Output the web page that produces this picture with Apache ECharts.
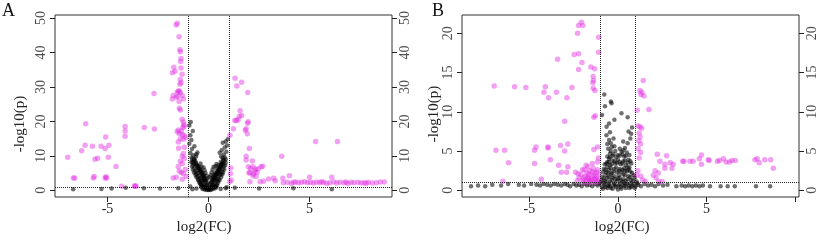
<!DOCTYPE html>
<html>
<head>
<meta charset="utf-8">
<script src="https://cdn.jsdelivr.net/npm/echarts@6/dist/echarts.min.js"></script>
<style>
  html, body { margin: 0; padding: 0; background: #fff; }
  #chart { width: 824px; height: 242px; }
</style>
</head>
<body>
<div id="chart"></div>
<script>
// tick labels
const xTicksA = [-5, 0, 5];
const xTicksB = [-5, 0, 5, 10];
const xLabelsB = [-5, 0, 5];
const yTicksA = [0, 10, 20, 30, 40, 50];
const yTicksB = [0, 5, 10, 15, 20];
const fcCut = [-1, 1];
const pCut = 1;

// axis extents [min, max]
const xRangeA = [-7.6, 9.08];
const xRangeB = [-8.81, 10.23];
const yRangeA = [-1.95, 50.9];
const yRangeB = [-0.86, 22.34];

// panel A: significant points [log2FC, -log10p]
const aSig = [
  [-1.6,48.0],[-1.55,48.5],[-1.46,44.6],[-1.41,40.8],[-1.40,40.2],[-1.36,38.3],[-1.38,37.4],
  [-1.72,35.7],[-1.79,34.1],[-1.66,34.6],[-1.36,35.5],[-1.31,33.7],[-1.40,32.2],[-1.36,31.2],[-1.42,30.8],
  [-1.55,28.4],[-1.50,28.8],[-1.45,28.8],[-1.40,28.4],[-1.75,27.5],[-1.60,27.0],[-1.52,27.2],[-1.3,27.5],
  [-1.46,25.8],[-1.25,26.5],[-1.8,26.5],[-2.7,28.1],[-1.40,23.3],[-1.44,23.8],
  [-1.31,20.6],[-1.25,19.8],[-1.22,19.0],[-1.2,18.5],[-1.28,18.2],[-1.5,17.5],[-1.55,17.0],[-1.45,16.5],
  [-1.35,17.2],[-1.3,16.2],[-1.2,15.8],[-1.12,15.3],[-1.25,14.8],[-1.40,15.0],[-1.5,14.0],[-1.48,12.2],
  [-6.08,19.3],[-4.13,18.5],[-4.13,17.2],[-4.13,15.7],[-3.18,18.2],[-2.68,17.8],[-5.09,15.5],
  [-6.11,13.1],[-5.75,12.8],[-5.32,12.8],[-4.93,13.1],[-5.12,12.1],[-6.28,11.5],[-5.49,9.3],[-5.62,9.0],
  [-4.96,9.6],[-6.97,9.6],[-4.58,6.9],
  [-6.69,3.6],[-6.62,3.6],[-5.70,3.6],[-5.66,4.0],[-5.12,3.6],[-5.04,3.6],[-5.08,3.9],
  [-4.3,1.2],[-3.67,1.2],[-3.59,1.2],[-3.63,1.3],
  [-1.25,10.7],[-1.3,9.9],[-1.2,9.2],[-1.4,8.4],[-1.3,7.8],[-1.5,6.9],[-1.45,5.6],[-1.35,5.2],
  [-1.25,4.9],[-1.6,3.8],[-1.75,3.6],[-1.3,3.2],[-1.1,4.0],[-1.15,6.0],[-1.2,12.5],
  [1.31,32.5],[1.40,30.3],[1.64,31.4],[1.94,28.4],[1.56,23.1],[1.64,21.7],[1.52,21.4],[1.30,20.3],
  [1.38,20.3],[1.46,20.5],[1.96,19.9],[1.93,19.5],[1.86,17.9],[1.82,17.4],[1.23,17.9],[1.06,16.0],
  [1.92,16.4],[2.02,12.1],[1.86,9.9],[1.86,8.8],[2.17,8.5],[3.62,9.9],[5.3,14.2],[6.38,14.2],
  [1.97,6.8],[2.08,6.3],[2.2,6.8],[2.33,6.2],[2.45,6.2],[2.6,6.8],[2.68,7.0],[2.05,5.2],[2.22,4.8],
  [2.4,5.2],[2.3,5.6],[2.0,5.0],[2.2,4.2],[2.35,4.0],[1.1,6.5],[1.08,4.8],[1.12,3.0],[1.05,2.5],
  [2.05,2.5],[2.55,2.5],[2.72,2.6],[2.97,3.3],[3.22,3.5],[3.3,2.8],[3.68,3.5],[4.0,4.2],[5.0,3.8],[6.1,3.8],
  [3.7,2.2],[3.9,2.3],[4.1,2.0],[4.3,2.4],[4.45,2.2],[4.6,2.3],[4.75,2.5],[4.9,2.2],[5.05,2.3],[5.2,2.1],
  [5.35,2.4],[5.5,2.2],[5.7,2.3],[5.85,2.0],[6.0,2.2],[6.2,2.4],[6.35,2.1],[6.5,2.3],[6.7,2.2],[6.9,2.0],
  [7.05,2.3],[7.2,2.2],[7.4,2.3],[7.55,2.1],[7.7,2.2],[7.9,2.3],[8.1,2.1],[8.3,2.2],[8.5,2.4],[8.7,2.4],
  [4.2,2.3],[5.6,2.5],[6.8,2.4],[7.8,2.0]
];

// panel A: other points
const aRest = [
  [-0.3,0.4],[-0.2,0.2],[-0.1,0.1],[0,0.05],[0.1,0.1],[0.2,0.3],[0.3,0.5],[-0.25,0.8],[-0.15,0.6],
  [-0.05,0.3],[0.05,0.4],[0.15,0.7],[0.25,0.9],[0.35,1.2],[-0.35,1.3],[-0.2,1.1],[0.0,0.8],[0.1,1.0],
  [-0.4,1.8],[0.4,1.7],[-0.1,1.4],[0.2,1.5],[-0.3,2.1],[0.3,2.2],
  [-0.45,2.5],[-0.35,2.8],[-0.25,2.6],[-0.15,2.4],[0.15,2.5],[0.25,2.7],[0.35,2.9],[0.45,2.6],
  [-0.5,3.2],[-0.4,3.5],[-0.3,3.1],[-0.2,3.3],[0.2,3.2],[0.3,3.6],[0.4,3.3],[0.5,3.1],
  [-0.55,4.0],[-0.45,4.3],[-0.35,3.9],[-0.25,4.4],[0.25,4.1],[0.35,4.5],[0.45,4.0],[0.55,4.4],
  [-0.6,4.8],[-0.5,5.0],[-0.3,4.7],[0.3,4.9],[0.5,5.1],[0.6,4.7],
  [-0.65,5.5],[-0.55,5.8],[-0.4,5.4],[0.4,5.6],[0.55,5.9],[0.65,5.4],[-0.7,6.3],[-0.55,6.6],[-0.45,6.1],
  [0.45,6.4],[0.6,6.8],[0.7,6.2],[-0.75,7.2],[-0.6,7.5],[-0.5,7.0],[0.5,7.3],[0.65,7.7],[0.75,7.0],
  [-0.8,8.0],[-0.65,8.4],[0.6,8.2],[0.78,8.6],[-0.7,9.1],[-0.85,9.5],[0.7,9.3],[0.85,9.0],
  [-0.7,8.8],[-0.62,7.9],[-0.52,6.8],[-0.42,5.9],[-0.35,5.1],[-0.28,4.2],[-0.2,3.6],[-0.12,2.9],
  [-0.05,2.1],[-0.08,1.7],[0.08,1.8],[0.12,2.2],[0.18,2.9],[0.28,3.4],[0.38,4.2],[0.42,4.8],[0.48,5.4],
  [0.52,6.2],[0.58,6.6],[0.62,7.3],[0.68,8.0],[0.72,8.8],
  [-0.75,8.3],[-0.68,7.6],[-0.58,7.2],[-0.48,6.4],[-0.38,5.7],[-0.32,5.2],[-0.22,4.0],[-0.16,3.0],
  [0.22,3.8],[0.32,4.6],[0.42,5.2],[0.5,5.8],[0.58,7.0],[0.66,7.4],[0.72,7.8],
  [-0.78,6.0],[-0.72,5.2],[-0.65,4.5],[-0.6,3.8],[-0.52,3.0],[-0.45,2.2],[-0.38,1.6],[-0.28,1.0],
  [0.78,6.0],[0.72,5.2],[0.68,4.6],[0.62,3.8],[0.55,3.0],[0.48,2.2],[0.42,1.4],[0.32,1.0],
  [-0.82,7.0],[-0.85,8.2],[0.82,7.2],[0.85,8.0],[-0.2,5.8],[-0.15,5.0],[-0.1,4.2],[0.1,4.4],[0.15,5.2],
  [0.2,6.0],[-0.25,6.6],[0.25,6.8],[-0.05,3.4],[0.05,3.8],[-0.4,7.8],[0.4,7.6],[-0.35,6.8],[0.35,7.0],
  [-0.25,1.5],[0.25,1.6],[-0.18,1.0],[0.18,1.2],[-0.12,0.5],[0.12,0.6],[-0.05,0.7],[0.05,0.2],
  [-0.35,0.9],[0.38,0.8],[-0.62,9.8],[-0.8,9.0],[0.62,9.8],[0.8,9.6],
  [-0.75,10.2],[-0.9,10.8],[-0.6,10.5],[0.75,10.4],[0.88,11.2],[0.65,11.6],[-0.82,12.0],[-0.7,12.8],
  [0.8,12.4],[0.92,13.0],[-0.95,13.5],[-0.85,14.6],[0.7,13.8],[0.85,14.2],[-0.9,16.0],[-0.78,17.2],
  [-0.95,18.8],[-0.88,19.8],[0.95,14.8],[-0.55,11.0],[0.55,10.9],
  [-0.8,0.3],[-0.6,0.5],[0.6,0.4],[0.85,0.6],[-0.9,1.1],[0.9,0.9],
  [-5.3,0.4],[-4.8,0.5],[-4.1,0.7],[-3.2,0.6],[-2.4,0.5],[-6.7,0.3],[4.2,0.6],[6.1,0.3],[-1.5,0.6],
  [1.3,0.7],[2.5,0.5]
];

// panel B: significant points
const bSig = [
  [-2.07,21.4],[-2.22,21.0],[-1.98,21.0],[-2.28,20.0],[-1.09,19.5],[-1.09,17.6],[-2.47,17.3],[-2.22,17.4],
  [-3.41,16.7],[-2.03,16.3],[-2.22,15.4],[-1.53,15.7],[-1.32,15.5],[-1.4,14.5],[-1.38,14.0],[-1.42,13.7],
  [-1.4,13.0],[-1.3,12.7],
  [-6.99,13.3],[-5.84,13.2],[-5.2,13.1],[-4.1,13.2],[-4.18,12.5],[-3.92,11.8],[-3.48,12.5],[-2.6,13.1],
  [-2.88,11.8],[-3.01,8.8],[-1.36,9.3],[-1.28,9.5],
  [-6.89,5.1],[-6.4,5.1],[-6.18,3.5],[-4.71,5.1],[-4.63,5.5],[-3.95,5.5],[-3.95,5.4],[-4.71,3.4],
  [-3.82,3.9],[-3.24,5.7],[-2.83,5.9],[-3.01,5.0],[-3.35,3.2],[-3.2,2.3],[-2.9,2.3],[-2.83,3.0],
  [-4.33,1.4],[-6.5,1.15],[-1.36,5.2],[-1.15,5.5],[-1.1,4.1],
  [-2.3,1.2],[-2.2,1.6],[-2.1,2.0],[-2.0,1.3],[-1.9,2.6],[-1.85,1.8],[-1.8,1.1],[-1.75,2.2],[-1.7,3.0],
  [-1.65,1.5],[-1.6,2.5],[-1.55,1.2],[-1.5,1.9],[-1.45,3.4],[-1.4,2.8],[-1.35,1.4],[-1.3,2.2],[-1.25,1.0],
  [-1.2,1.7],[-1.15,2.6],[-1.1,1.3],[-1.05,2.0],[-1.6,1.0],[-1.95,1.0],[-2.4,2.3],[-1.15,3.6],[-1.5,1.4],
  [-1.4,1.1],[-1.7,1.6],[-1.25,1.5],[-2.0,2.6],[-1.8,3.2],
  [-2.25,2.1],[-1.95,1.6],[-1.65,2.0],[-1.35,1.8],[-1.12,1.1],[-1.45,2.4],[-1.75,1.3],[-1.2,2.3],
  [1.43,14.0],[1.24,12.7],[1.35,12.5],[1.47,12.0],[1.3,12.2],[1.75,10.3],[1.09,10.2],[1.13,8.2],[1.25,8.1],
  [1.34,7.9],[1.2,7.3],[1.25,6.8],[1.18,6.3],[1.28,5.9],[1.14,5.3],[1.28,4.8],[1.2,4.1],[1.13,2.5],
  [1.06,1.9],[1.3,1.8],[1.4,1.3],[1.55,1.1],
  [2.22,4.6],[2.75,4.4],[2.37,3.7],[2.65,3.3],[2.95,3.5],[3.12,3.3],[3.05,2.8],[2.65,2.8],[2.1,2.5],
  [2.28,2.2],[2.0,1.9],[2.15,1.6],[2.3,1.1],[2.5,1.1],
  [3.66,3.7],[3.73,3.7],[4.07,3.7],[4.25,3.7],[4.6,4.0],[4.72,4.5],[4.72,3.3],[5.1,3.9],[5.16,3.8],
  [5.62,3.7],[5.74,3.8],[5.96,4.0],[6.11,3.6],[6.3,3.6],[6.44,3.8],[6.63,3.8],[7.74,3.9],[7.87,4.0],
  [7.98,3.5],[8.3,3.9],[8.63,3.9],[8.78,2.8]
];

// panel B: other points
const bRest = [
  [-8.3,0.5],[-7.9,0.6],[-7.5,0.5],[-7.1,0.7],[-6.6,0.6],[-6.2,0.8],[-5.6,0.7],[-5.3,0.6],[-4.9,0.8],
  [-4.6,0.7],[-4.4,0.6],[-4.2,0.8],[-4.0,0.7],[-3.8,0.6],[-3.6,0.8],[-3.4,0.7],[-3.2,0.6],[-3.0,0.8],
  [-2.85,0.7],[-2.7,0.5],[-2.5,0.8],[-2.35,0.6],[-2.2,0.7],[-2.05,0.5],[-1.9,0.8],[-1.75,0.6],[-1.6,0.7],
  [-1.45,0.5],[-1.3,0.8],[-1.15,0.6],[1.15,0.7],[1.3,0.5],[1.5,0.8],[1.7,0.6],[1.9,0.7],[2.1,0.5],
  [2.3,0.8],[2.55,0.6],[2.8,0.7],[3.3,0.5],[3.6,0.6],[3.8,0.5],[4.0,0.6],[4.2,0.5],[4.4,0.6],[4.6,0.5],
  [4.8,0.6],[5.2,0.5],[5.8,0.5],[6.2,0.5],[6.6,0.5],[7.8,0.5],[8.6,0.5],
  [-0.9,0.4],[-0.75,0.7],[-0.6,0.3],[-0.45,0.5],[-0.3,0.2],[-0.15,0.6],[0.0,0.1],[0.15,0.4],[0.3,0.7],
  [0.45,0.3],[0.6,0.6],[0.75,0.4],[0.9,0.8],[-0.8,0.9],[-0.5,0.8],[-0.2,0.9],[0.1,0.8],[0.4,0.9],
  [0.7,0.9],[1.0,0.5],
  [-0.85,0.2],[-0.7,0.4],[-0.55,0.6],[-0.4,0.3],[-0.25,0.7],[-0.1,0.4],[0.05,0.6],[0.2,0.2],[0.35,0.5],
  [0.5,0.8],[0.65,0.3],[0.8,0.6],[0.95,0.3],
  [-0.95,1.2],[-0.8,1.5],[-0.65,1.1],[-0.5,1.7],[-0.35,1.3],[-0.2,1.8],[-0.05,1.2],[0.1,1.6],[0.25,1.1],
  [0.4,1.9],[0.55,1.4],[0.7,1.7],[0.85,1.2],[-0.7,1.9],[-0.4,2.0],[0.05,1.9],[0.3,2.0],[0.95,1.6],
  [-0.9,1.7],[-0.75,1.2],[-0.6,1.6],[-0.45,1.1],[-0.3,1.6],[-0.15,1.4],[0.0,1.5],[0.15,1.2],[0.3,1.4],
  [0.45,1.2],[0.6,1.8],[0.75,1.3],[0.9,1.9],
  [-0.85,2.3],[-0.7,2.6],[-0.55,2.2],[-0.4,2.8],[-0.25,2.4],[-0.1,2.9],[0.05,2.5],[0.2,2.3],[0.35,2.8],
  [0.5,2.4],[0.65,2.9],[0.8,2.2],[-0.6,3.0],[0.6,2.6],
  [-0.8,2.7],[-0.65,2.3],[-0.5,2.6],[-0.35,2.2],[-0.2,2.7],[-0.05,2.3],[0.1,2.7],[0.25,2.6],[0.4,2.5],
  [0.55,2.9],[0.7,2.4],
  [-0.75,3.3],[-0.6,3.6],[-0.45,3.2],[-0.3,3.8],[-0.15,3.4],[0.0,3.9],[0.15,3.3],[0.3,3.7],[0.45,3.2],
  [0.6,3.9],[0.75,3.4],[-0.5,4.0],
  [-0.65,3.4],[-0.5,3.6],[-0.35,3.3],[-0.2,3.7],[-0.05,3.5],[0.1,3.6],[0.25,3.4],[0.4,3.8],[0.55,3.5],
  [0.7,3.7],
  [-0.6,4.3],[-0.45,4.7],[-0.3,4.4],[-0.15,5.0],[0.0,4.5],[0.2,4.9],[0.35,4.3],[0.5,4.8],[0.65,4.5],
  [-0.55,5.3],[0.4,5.4],[-0.35,5.5],
  [-0.45,4.2],[-0.25,4.6],[-0.1,4.2],[0.1,4.4],[0.25,4.6],[0.45,4.4],[-0.4,5.0],[0.3,5.1],[-0.2,5.6],
  [0.1,5.3],
  [-0.6,5.9],[-0.5,6.4],[-0.4,6.0],[-0.25,6.6],[0.3,6.2],[0.55,6.0],[0.7,6.6],[-0.65,7.0],[-0.45,7.4],
  [0.75,7.2],[0.6,7.5],[-0.64,8.1],[-0.5,8.5],[0.8,8.0],
  [-0.77,12.2],[-0.4,11.3],[-0.36,11.1],[-0.73,10.7],[-0.9,9.6],[0.55,9.3],[0.2,9.8],[-0.2,9.0],
  [-1.0,1.0],[1.05,1.1],[-1.05,0.8],[1.1,0.9]
];

const serif = "Liberation Serif";
const ink = "#222";

function xAxisFor(grid, range, ticks, labels) {
  return {
    gridIndex: grid, type: "value", min: range[0], max: range[1],
    axisLine: { show: false, onZero: false },
    splitLine: { show: false },
    axisTick: { show: true, inside: false, length: 5, customValues: ticks, lineStyle: { color: ink } },
    axisLabel: { customValues: labels, margin: 5, fontFamily: serif, fontSize: 14, color: ink },
  };
}

function yAxisFor(grid, side, range, ticks) {
  return {
    gridIndex: grid, type: "value", position: side, min: range[0], max: range[1],
    axisLine: { show: false, onZero: false },
    splitLine: { show: false },
    axisTick: { show: true, inside: false, length: 5, customValues: ticks, lineStyle: { color: ink } },
    axisLabel: { show: false },
  };
}

// R-style tick labels turned along the y axis, placed through the axis scale
function yLabels(xi, yi, xAt, ticks, side) {
  return {
    type: "scatter", xAxisIndex: xi, yAxisIndex: yi, silent: true, clip: false,
    symbolSize: 0,
    data: ticks.map((v) => [xAt, v]),
    label: {
      show: true, position: side, distance: side === "left" ? 7 : 6, rotate: 90,
      align: "center", verticalAlign: side === "left" ? "bottom" : "top",
      formatter: (p) => String(p.value[1]),
      fontFamily: serif, fontSize: 14, color: ink,
    },
  };
}

function cutLines() {
  return {
    silent: true,
    symbol: ["none", "none"],
    label: { show: false },
    lineStyle: { type: [1, 1], color: "#222", width: 1 },
    data: [{ xAxis: fcCut[0] }, { xAxis: fcCut[1] }, { yAxis: pCut }],
  };
}

let mychart = echarts.init(document.getElementById("chart"));
let option = {
  animation: false,
  backgroundColor: "#fff",
  grid: [
    { left: 55, top: 15, width: 337, height: 182, show: true, borderColor: "#333", borderWidth: 1 },
    { left: 462, top: 15, width: 337, height: 182, show: true, borderColor: "#333", borderWidth: 1 },
  ],
  xAxis: [
    xAxisFor(0, xRangeA, xTicksA, xTicksA),
    xAxisFor(1, xRangeB, xTicksB, xLabelsB),
  ],
  yAxis: [
    yAxisFor(0, "left", yRangeA, yTicksA),
    yAxisFor(0, "right", yRangeA, yTicksA),
    yAxisFor(1, "left", yRangeB, yTicksB),
    yAxisFor(1, "right", yRangeB, yTicksB),
  ],
  series: [
    {
      type: "scatter", xAxisIndex: 0, yAxisIndex: 0, data: aRest, symbolSize: 4.5,
      itemStyle: { color: "rgba(0,0,0,0.7)" },
    },
    {
      type: "scatter", xAxisIndex: 0, yAxisIndex: 0, data: aSig, symbolSize: 5.5,
      itemStyle: { color: "rgba(225,40,225,0.55)" },
      markLine: cutLines(),
    },
    {
      type: "scatter", xAxisIndex: 1, yAxisIndex: 2, data: bRest, symbolSize: 4.5,
      itemStyle: { color: "rgba(0,0,0,0.7)" },
    },
    {
      type: "scatter", xAxisIndex: 1, yAxisIndex: 2, data: bSig, symbolSize: 5.5,
      itemStyle: { color: "rgba(225,40,225,0.55)" },
      markLine: cutLines(),
    },
    yLabels(0, 0, xRangeA[0], yTicksA, "left"),
    yLabels(0, 0, xRangeA[1], yTicksA, "right"),
    yLabels(1, 2, xRangeB[0], yTicksB, "left"),
    yLabels(1, 2, xRangeB[1], yTicksB, "right"),
  ],
  graphic: [
    { type: "text", left: 2, top: 2, style: { text: "A", fontFamily: serif, fontSize: 18, fill: "#111" } },
    { type: "text", left: 432, top: 2, style: { text: "B", fontFamily: serif, fontSize: 18, fill: "#111" } },
    {
      type: "text", x: 20, y: 124, rotation: Math.PI / 2,
      style: { text: "-log10(p)", fontFamily: serif, fontSize: 15, fill: ink, align: "center", verticalAlign: "middle" },
    },
    {
      type: "text", x: 434, y: 114, rotation: Math.PI / 2,
      style: { text: "-log10(p)", fontFamily: serif, fontSize: 15, fill: ink, align: "center", verticalAlign: "middle" },
    },
    {
      type: "text", x: 204, y: 227,
      style: { text: "log2(FC)", fontFamily: serif, fontSize: 15, fill: ink, align: "center", verticalAlign: "middle" },
    },
    {
      type: "text", x: 622, y: 227,
      style: { text: "log2(FC)", fontFamily: serif, fontSize: 15, fill: ink, align: "center", verticalAlign: "middle" },
    },
  ],
};
mychart.setOption(option);
</script>
</body>
</html>
